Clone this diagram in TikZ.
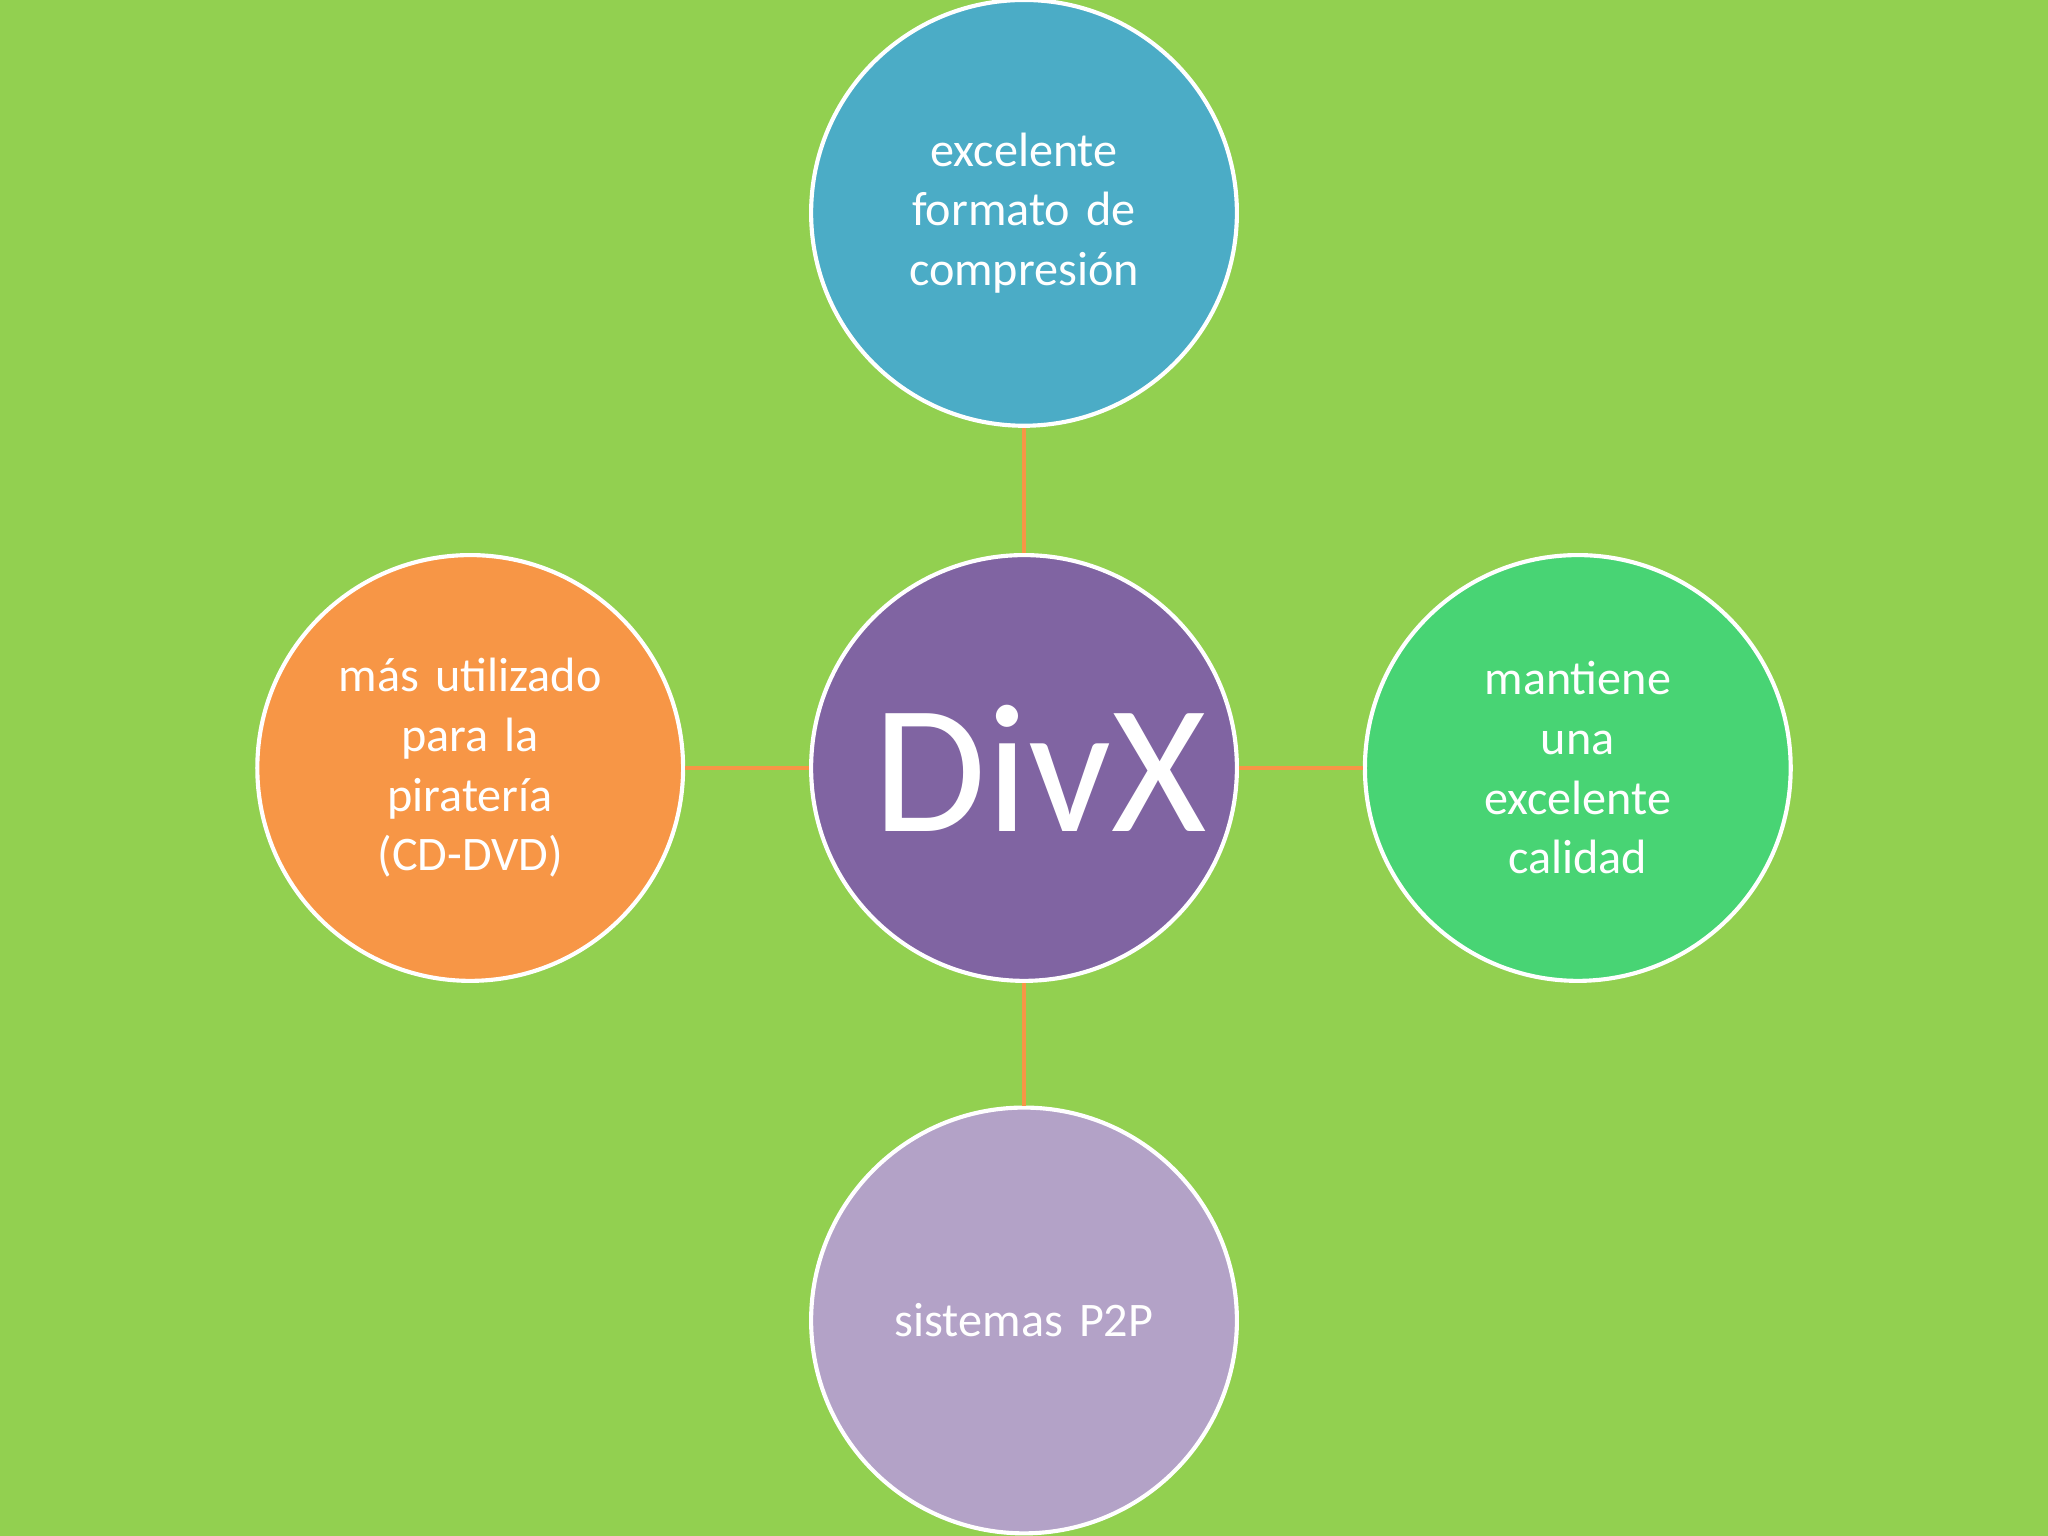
\documentclass[tikz,border=0pt]{standalone}
\usepackage{fontspec}
\setmainfont{Carlito}
\definecolor{bg}{RGB}{146,208,80}
\definecolor{ctop}{RGB}{75,172,198}
\definecolor{cmid}{RGB}{128,100,162}
\definecolor{cleft}{RGB}{247,150,70}
\definecolor{cright}{RGB}{72,212,116}
\definecolor{cbot}{RGB}{179,162,199}
\begin{document}
\begin{tikzpicture}
\useasboundingbox (0,0) rectangle (15.68,11.76);
\fill[bg] (0,0) rectangle (15.68,11.76);
\tikzset{bub/.style={circle,draw=white,line width=0.9pt,minimum size=3.26cm,inner sep=0pt,text=white,align=center,font=\fontsize{10.5}{13}\selectfont,text width=2.3cm},
link/.style={draw=cleft,line width=1pt}}
\node[bub,fill=cmid,font=\fontsize{40}{44}\selectfont] (c) at (7.84,5.88) {DivX};
\node[bub,fill=ctop] (t) at (7.84,10.13) {excelente formato de compresión};
\node[bub,fill=cleft] (l) at (3.60,5.88) {más utilizado para la piratería (CD-DVD)};
\node[bub,fill=cright,text width=2cm] (r) at (12.08,5.88) {mantiene una excelente calidad};
\node[bub,fill=cbot] (b) at (7.84,1.65) {sistemas P2P};
\draw[link] (c) -- (t);
\draw[link] (c) -- (l);
\draw[link] (c) -- (r);
\draw[link] (c) -- (b);
\end{tikzpicture}
\end{document}
